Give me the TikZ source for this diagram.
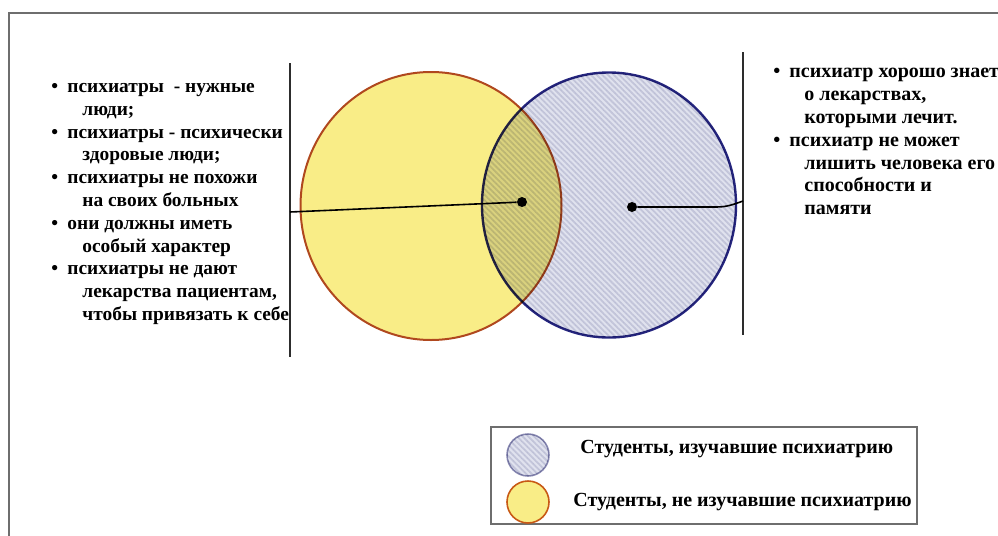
\documentclass[tikz,border=0pt]{standalone}
\usepackage{fontspec}
\setmainfont{Liberation Serif}
\usepackage{tikz}
\usetikzlibrary{shapes.geometric, patterns.meta}

\definecolor{setyellow}{RGB}{249,237,135}
\definecolor{yellowedge}{RGB}{176,72,30}
\definecolor{blueedge}{RGB}{38,38,128}
\definecolor{setblue}{RGB}{224,226,238}
\definecolor{stripeblue}{RGB}{222,223,234}
\definecolor{keyedge}{RGB}{140,140,180}
\definecolor{framegray}{RGB}{110,110,110}
\definecolor{sepgray}{RGB}{45,45,45}

\newcommand{\vitem}[1]{\makebox[8pt][l]{\textbullet}#1}
\newcommand{\vcont}[1]{\hspace*{15.5pt}#1}

\begin{document}
\begin{tikzpicture}[x=0.5pt, y=-0.5pt, every node/.style={inner sep=0pt},
    txt/.style={font=\bfseries\fontsize{9.7}{11.4}\selectfont, align=left, anchor=north west},
    hatched/.style={preaction={fill=setblue}, pattern={Lines[angle=-45, distance=2pt, line width=0.9pt]}, pattern color=stripeblue},
    dot/.style={circle, fill=black, minimum size=5pt},
    sep/.style={draw=sepgray, line width=1pt},
    link/.style={draw=black, line width=0.8pt}]
    \useasboundingbox (0,0) rectangle (998,536);
    \draw[framegray, line width=1pt] (8.5,536) -- (8.5,13) -- (998,13);

    % the two sets
    \node[ellipse, minimum width=130.5pt, minimum height=134pt, draw=yellowedge, line width=1pt, fill=setyellow] (notstudied) at (431,206) {};
    \begin{scope}[blend mode=multiply]
        \node[ellipse, minimum width=127pt, minimum height=132.5pt, draw=blueedge, line width=1.2pt, hatched] (studied) at (609,205) {};
    \end{scope}

    \node[dot] (midpt) at (522,202) {};
    \node[dot] (studpt) at (632,207) {};

    % separators
    \coordinate (ltop) at (290,63);
    \coordinate (lbot) at (290,357);
    \coordinate (lhook) at (290,212);
    \coordinate (rtop) at (743,52);
    \coordinate (rbot) at (743,335);
    \coordinate (rhook) at (743,201);
    \draw[sep] (ltop) -- (lbot);
    \draw[sep] (rtop) -- (rbot);

    \draw[link] (lhook) -- (midpt);
    \draw[link] (studpt) -- ++(84,0) to[out=0, in=200] (rhook);

    % opinions
    \node[txt] (leftlist) at (51,83) {\vitem{психиатры\ \ - нужные}\\
        \vcont{люди;}\\
        \vitem{психиатры - психически}\\
        \vcont{здоровые люди;}\\
        \vitem{психиатры не похожи}\\
        \vcont{на своих больных}\\
        \vitem{они должны иметь}\\
        \vcont{особый характер}\\
        \vitem{психиатры не дают}\\
        \vcont{лекарства пациентам,}\\
        \vcont{чтобы привязать к себе}};
    \node[txt, font=\bfseries\fontsize{10}{11.4}\selectfont] (rightlist) at (773,68) {\vitem{психиатр хорошо знает}\\
        \vcont{о лекарствах,}\\
        \vcont{которыми лечит.}\\
        \vitem{психиатр не может}\\
        \vcont{лишить человека его}\\
        \vcont{способности и}\\
        \vcont{памяти}};

    % legend
    \node[draw=framegray, line width=1pt, minimum width=213pt, minimum height=48.5pt] (legend) at (704,475.5) {};
    \begin{scope}[blend mode=multiply]
        \node[circle, minimum size=21pt, draw=keyedge, line width=0.8pt, hatched] (keystudied) at (528,455) {};
    \end{scope}
    \node[circle, minimum size=21pt, draw=yellowedge!70!orange, line width=0.8pt, fill=setyellow] (keynot) at (528,502) {};
    \node[font=\bfseries\fontsize{10}{11.4}\selectfont, anchor=west] (labstudied) at (580,449) {Студенты, изучавшие психиатрию};
    \node[font=\bfseries\fontsize{10}{11.4}\selectfont, anchor=west] (labnot) at (573,502.5) {Студенты, не изучавшие психиатрию};
\end{tikzpicture}
\end{document}
